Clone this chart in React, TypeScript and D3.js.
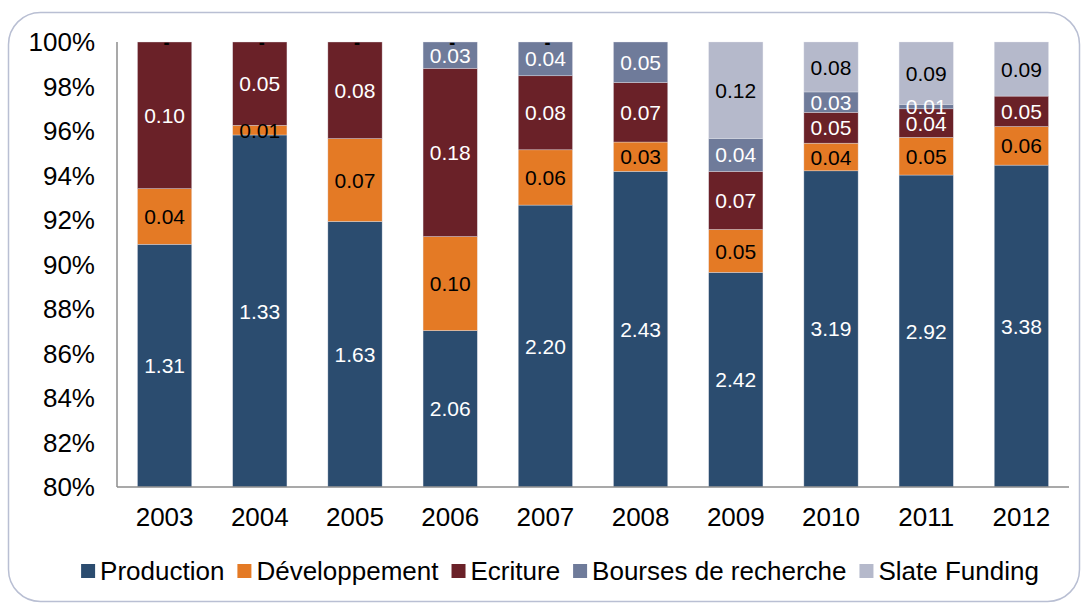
import React, { useMemo } from "react";
import * as d3 from "d3";

const years = ["2003", "2004", "2005", "2006", "2007", "2008", "2009", "2010", "2011", "2012"];
const seriesNames = ["Production", "Développement", "Ecriture", "Bourses de recherche", "Slate Funding"];
const production = [1.31, 1.33, 1.63, 2.06, 2.2, 2.43, 2.42, 3.19, 2.92, 3.38];
const developpement = [0.036, 0.006, 0.066, 0.1, 0.059, 0.034, 0.052, 0.042, 0.0525, 0.062];
const ecriture = [0.095, 0.052, 0.077, 0.179, 0.079, 0.069, 0.0705, 0.047, 0.04, 0.049];
const bourses: (number | null)[] = [null, null, null, 0.028, 0.036, 0.047, 0.04, 0.031, 0.0062, null];
const slate: (number | null)[] = [0, 0, 0, 0, 0, null, 0.117, 0.076, 0.087, 0.087];
const yTicks = [0.8, 0.82, 0.84, 0.86, 0.88, 0.9, 0.92, 0.94, 0.96, 0.98, 1.0];

const colors = ["#2b4c6f", "#e47a25", "#6a2128", "#6f7b9a", "#b5b9cb"];
const labelColors = ["#ffffff", "#000000", "#ffffff", "#ffffff", "#000000"];
const FONT = "'Liberation Sans', Arial, sans-serif";

export default function App() {
  const W = 1085, H = 604;
  const left = 117, right = 1069, top = 42, bottom = 487;
  const seriesValues = [production, developpement, ecriture, bourses, slate];

  const rows = years.map((y, i) => {
    const r: any = { year: y };
    seriesNames.forEach((k, j) => (r[k] = seriesValues[j][i]));
    return r;
  });

  const stacked = d3
    .stack<any>()
    .keys(seriesNames)
    .value((d, k) => d[k] ?? 0)
    .offset(d3.stackOffsetExpand)(rows);

  const x = d3.scaleBand<string>().domain(years).range([left, right]).paddingInner(0.43).paddingOuter(0.215);
  const y = d3.scaleLinear().domain([0.8, 1]).range([bottom, top]);
  const clampV = (v: number) => Math.max(0.8, Math.min(1, v));

  const legendLayout = useMemo(() => {
    const c = document.createElement("canvas").getContext("2d")!;
    c.font = `26px ${FONT}`;
    const sq = 14, g1 = 5, g2 = 13;
    const widths = seriesNames.map((n) => c.measureText(n).width);
    const total = widths.reduce((a, w) => a + sq + g1 + w, 0) + g2 * (seriesNames.length - 1);
    let cx = 560 - total / 2;
    return widths.map((w) => {
      const pos = cx;
      cx += sq + g1 + w + g2;
      return pos;
    });
  }, []);

  return (
    <svg width={W} height={H} style={{ position: "absolute", left: 0, top: 0, background: "#fff" }} fontFamily={FONT}>
      <rect x={8.5} y={12.5} width={1071} height={589} rx={32} ry={32} fill="#fff" stroke="#b9bfd3" strokeWidth={1.5} />
      {/* bars */}
      {stacked.map((s, si) => (
        <g key={s.key}>
          {s.map((d, i) => {
            const raw = seriesValues[si][i];
            if (raw === null || raw === 0) return null;
            const y0 = clampV(d[0]), y1 = clampV(d[1]);
            if (y1 <= y0) return null;
            return (
              <rect
                key={i}
                x={x(years[i])}
                width={x.bandwidth()}
                y={y(y1)}
                height={y(y0) - y(y1)}
                fill={colors[si]}
                stroke="#e6e8ef"
                strokeOpacity={0.6}
                strokeWidth={0.6}
              />
            );
          })}
        </g>
      ))}
      {/* labels */}
      {stacked.map((s, si) => (
        <g key={"l" + s.key}>
          {s.map((d, i) => {
            const raw = seriesValues[si][i];
            if (raw === null) return null;
            const y0 = clampV(d[0]), y1 = clampV(d[1]);
            const cy = y((y0 + y1) / 2);
            if (raw === 0) {
              return (
                <text key={i} x={x(years[i])! + x.bandwidth() / 2 + 2} y={cy} dy="0.4em" textAnchor="middle" fontSize={18} fontWeight="bold" fill="#000">
                  -
                </text>
              );
            }
            return (
              <text
                key={i}
                x={x(years[i])! + x.bandwidth() / 2}
                y={cy}
                dy="0.36em"
                textAnchor="middle"
                fontSize={21}
                fill={labelColors[si]}
              >
                {raw.toFixed(2)}
              </text>
            );
          })}
        </g>
      ))}
      {/* axes */}
      <line x1={left} x2={left} y1={top} y2={bottom} stroke="#8c8c8c" strokeWidth={1.5} />
      <line x1={left} x2={right} y1={bottom} y2={bottom} stroke="#8c8c8c" strokeWidth={1.5} />
      {yTicks.map((t) => (
        <text key={t} x={95} y={y(t)} dy="0.36em" textAnchor="end" fontSize={26} fill="#000">
          {d3.format(".0%")(t)}
        </text>
      ))}
      {years.map((yr) => (
        <text key={yr} x={x(yr)! + x.bandwidth() / 2} y={517} dy="0.36em" textAnchor="middle" fontSize={26} fill="#000">
          {yr}
        </text>
      ))}
      {/* legend */}
      {seriesNames.map((n, i) => (
        <g key={n} transform={`translate(${legendLayout[i]},571)`}>
          <rect x={0} y={-7} width={14} height={14} fill={colors[i]} />
          <text x={19} y={0} dy="0.36em" fontSize={26} fill="#000">
            {n}
          </text>
        </g>
      ))}
    </svg>
  );
}
